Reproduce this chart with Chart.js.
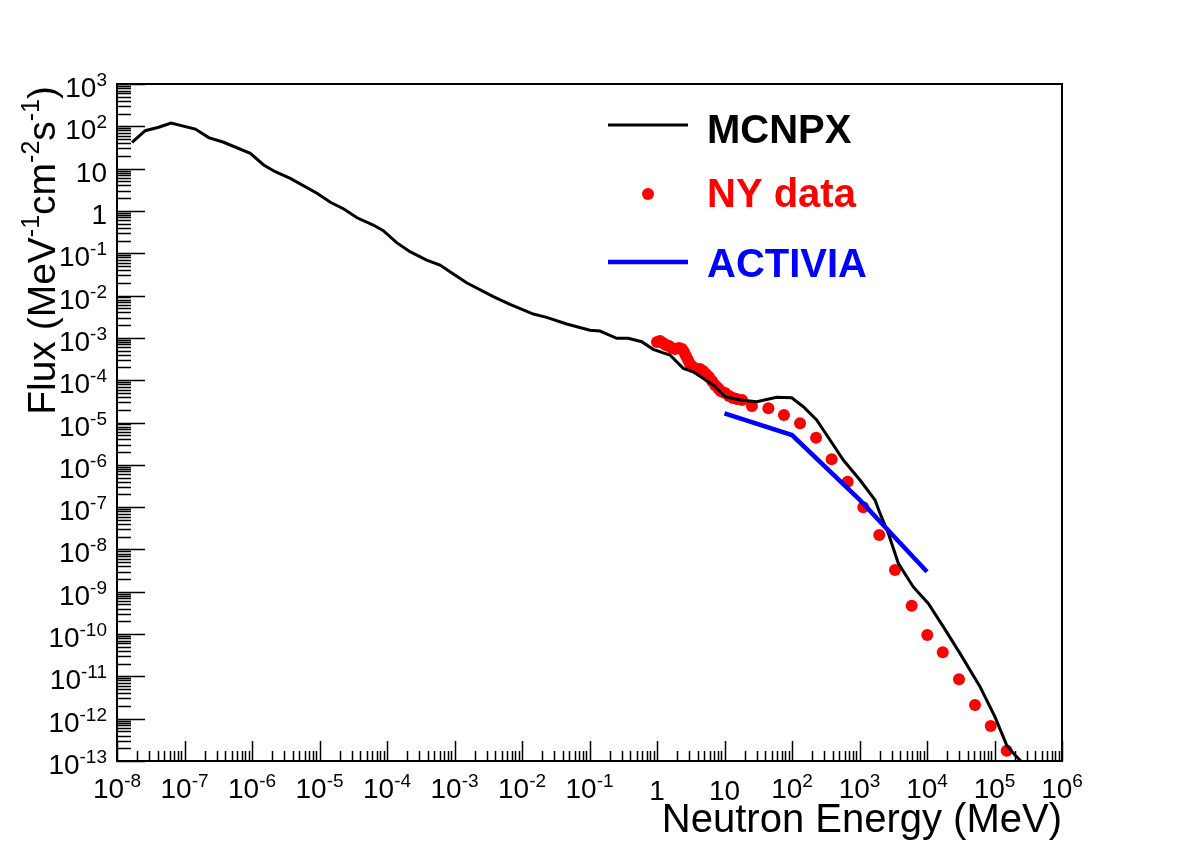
<!DOCTYPE html>
<html><head><meta charset="utf-8">
<script src="https://cdn.jsdelivr.net/npm/chart.js@4.4.0/dist/chart.umd.min.js"></script>
<style>html,body{margin:0;padding:0;background:#fff;}#wrap{position:relative;width:1182px;height:848px;}</style>
</head><body><div id="wrap"><canvas id="c" width="1182" height="848"></canvas></div>
<script>
// ---- data ----
const mcnpxE = [1.67e-8, 2.62e-8, 4.15e-8, 6.31e-8, 1.45e-7, 2.28e-7, 3.80e-7, 9.44e-7, 1.49e-6, 2.21e-6, 3.69e-6, 9.18e-6, 1.45e-5, 2.29e-5, 3.60e-5, 6.27e-5, 8.81e-5, 1.39e-4, 2.19e-4, 3.87e-4, 6.10e-4, 8.57e-4, 1.51e-3, 3.76e-3, 6.64e-3, 0.0147, 0.0232, 0.0459, 0.1016, 0.143, 0.253, 0.376, 0.593, 0.881, 1.175, 1.56, 2.45, 3.45, 4.85, 6.82, 10.2, 17.0, 30.0, 59.3, 98.9, 147, 232, 366, 575, 1016, 1698, 2014, 2673, 3758, 6266, 10450, 17400, 30800, 61000, 101600, 151000, 201000, 255000];
const mcnpxF = [41.9, 78.7, 95, 120, 86, 54, 42, 23, 12.2, 8.45, 5.9, 2.61, 1.6, 1.11, 0.69, 0.465, 0.341, 0.178, 0.109, 0.069, 0.0527, 0.0366, 0.0201, 0.0094, 0.0062, 0.00366, 0.00306, 0.00213, 0.00151, 0.00145, 0.000975, 0.000975, 0.00081, 5.37e-4, 4.54e-4, 3.93e-4, 1.9e-4, 1.58e-4, 1.1e-4, 7.7e-5, 4.07e-5, 3.4e-5, 3.1e-5, 3.93e-5, 3.85e-5, 2.36e-5, 1.15e-5, 3.86e-6, 1.3e-6, 4.37e-7, 1.47e-7, 7.1e-8, 2.4e-8, 4.7e-9, 1.3e-9, 5.3e-10, 1.5e-10, 3.5e-11, 5.7e-12, 1.1e-12, 2.4e-13, 1.38e-13, 0.94e-13];
const nyE = [1.00, 1.107, 1.227, 1.358, 1.506, 1.667, 1.848, 2.117, 2.345, 2.512, 2.69, 2.88, 3.08, 3.41, 3.92, 4.34, 4.80, 5.32, 5.89, 6.53, 7.23, 8.01, 8.87, 10.2, 11.7, 13.4, 15.3, 18.2, 25.5, 44.6, 76.0, 131.5, 227, 387, 668, 1138, 1963, 3357, 5929, 10090, 17100, 29800, 51400, 87900, 151700];
const nyF = [7.98e-4, 8.43e-4, 7.56e-4, 6.78e-4, 6.42e-4, 5.75e-4, 5.45e-4, 5.75e-4, 5.45e-4, 4.63e-4, 3.72e-4, 3.0e-4, 2.41e-4, 2.05e-4, 1.84e-4, 1.84e-4, 1.65e-4, 1.40e-4, 1.19e-4, 9.6e-5, 7.7e-5, 6.5e-5, 5.5e-5, 4.98e-5, 4.23e-5, 3.79e-5, 3.59e-5, 3.4e-5, 2.45e-5, 2.16e-5, 1.50e-5, 9.55e-6, 4.37e-6, 1.35e-6, 3.98e-7, 9.9e-8, 2.19e-8, 3.26e-9, 4.68e-10, 9.5e-11, 3.7e-11, 8.5e-12, 2.1e-12, 6.7e-13, 1.75e-13];
const activiaE = [10, 100, 1000, 10000];
const activiaF = [1.65e-5, 5.06e-6, 1.5e-7, 2.98e-9];

const xTickValues = [1e-8,1e-7,1e-6,1e-5,1e-4,1e-3,1e-2,1e-1,1,10,1e2,1e3,1e4,1e5,1e6];
const xTickLabels = ["10^-8","10^-7","10^-6","10^-5","10^-4","10^-3","10^-2","10^-1","1","10","10^2","10^3","10^4","10^5","10^6"];
const yTickValues = [1e3,1e2,10,1,1e-1,1e-2,1e-3,1e-4,1e-5,1e-6,1e-7,1e-8,1e-9,1e-10,1e-11,1e-12,1e-13];
const yTickLabels = ["10^3","10^2","10","1","10^-1","10^-2","10^-3","10^-4","10^-5","10^-6","10^-7","10^-8","10^-9","10^-10","10^-11","10^-12","10^-13"];
const legendLabels = ["MCNPX", "NY data", "ACTIVIA"];
const xTitle = "Neutron Energy (MeV)";
const yTitleParts = [["Flux (MeV",0],["-1",1],["cm",0],["-2",1],["s",0],["-1",1],[")",0]];

const FONT = "'Liberation Sans', Arial, Helvetica, sans-serif";
const toPts = (xs, ys) => xs.map((x, i) => ({x: x, y: ys[i]}));

function drawPow(ctx, label, x, y, align, base, sup, raise) {
  const parts = label.split("^");
  ctx.font = base + "px " + FONT;
  const w1 = ctx.measureText(parts[0]).width;
  let w2 = 0;
  if (parts.length > 1) { ctx.font = sup + "px " + FONT; w2 = ctx.measureText(parts[1]).width; }
  const tot = w1 + w2;
  let sx = align === "right" ? x - tot : x - tot / 2;
  ctx.textAlign = "left"; ctx.textBaseline = "alphabetic";
  ctx.font = base + "px " + FONT;
  ctx.fillText(parts[0], sx, y);
  if (parts.length > 1) { ctx.font = sup + "px " + FONT; ctx.fillText(parts[1], sx + w1, y - raise); }
}

const axesPlugin = {
  id: "rootAxes",
  beforeDatasetsDraw(chart) {
    const ctx = chart.ctx, a = chart.chartArea, xs = chart.scales.x, ys = chart.scales.y;
    ctx.save();
    ctx.strokeStyle = "#000"; ctx.fillStyle = "#000";
    ctx.lineWidth = 2;
    ctx.strokeRect(a.left, a.top, a.right - a.left, a.bottom - a.top);
    ctx.lineWidth = 1.5;
    ctx.beginPath();
    // x ticks
    for (let d = -8; d <= 6; d++) {
      for (let m = 1; m <= 9; m++) {
        if (d === 6 && m > 1) break;
        const px = Math.round(xs.getPixelForValue(m * Math.pow(10, d))) + 0.5;
        const len = m === 1 ? 20 : 10;
        ctx.moveTo(px, a.bottom); ctx.lineTo(px, a.bottom - len);
      }
    }
    // y ticks
    for (let d = -13; d <= 3; d++) {
      for (let m = 1; m <= 9; m++) {
        if (d === 3 && m > 1) break;
        const py = Math.round(ys.getPixelForValue(m * Math.pow(10, d))) + 0.5;
        const len = m === 1 ? 28 : 14;
        ctx.moveTo(a.left, py); ctx.lineTo(a.left + len, py);
      }
    }
    ctx.stroke();
    // tick labels
    xTickValues.forEach((v, i) => {
      const px = xs.getPixelForValue(v);
      const lab = xTickLabels[i];
      drawPow(ctx, lab, px, lab.indexOf("^") < 0 ? 800 : 798, "center", 28, 19, 11);
    });
    yTickValues.forEach((v, i) => {
      const py = ys.getPixelForValue(v);
      drawPow(ctx, yTickLabels[i], 107, py + 13, "right", 28, 19, 11);
    });
    // x title
    ctx.font = "40px " + FONT;
    ctx.textAlign = "right"; ctx.textBaseline = "alphabetic";
    ctx.fillText(xTitle, a.right, 832);
    // y title (rotated, aligned to top)
    const mainSz = 39, supSz = 25, raise = 16;
    let tot = 0;
    yTitleParts.forEach(p => { ctx.font = (p[1] ? supSz : mainSz) + "px " + FONT; tot += ctx.measureText(p[0]).width; });
    ctx.translate(55, a.top + 2);
    ctx.rotate(-Math.PI / 2);
    ctx.textAlign = "left";
    let cx = -tot;
    yTitleParts.forEach(p => {
      ctx.font = (p[1] ? supSz : mainSz) + "px " + FONT;
      ctx.fillText(p[0], cx, p[1] ? -raise : 0);
      cx += ctx.measureText(p[0]).width;
    });
    ctx.restore();
  },
  afterDraw(chart) {
    const ctx = chart.ctx;
    ctx.save();
    ctx.font = "bold 40px " + FONT;
    ctx.textAlign = "left"; ctx.textBaseline = "alphabetic";
    // MCNPX
    ctx.strokeStyle = "#000"; ctx.lineWidth = 3;
    ctx.beginPath(); ctx.moveTo(608, 125); ctx.lineTo(688, 125); ctx.stroke();
    ctx.fillStyle = "#000"; ctx.fillText(legendLabels[0], 707, 143);
    // NY data
    ctx.fillStyle = "#ff0000";
    ctx.beginPath(); ctx.arc(648, 194, 6, 0, Math.PI * 2); ctx.fill();
    ctx.fillText(legendLabels[1], 707, 207);
    // ACTIVIA
    ctx.strokeStyle = "#0000ff"; ctx.lineWidth = 4.5;
    ctx.beginPath(); ctx.moveTo(608, 262); ctx.lineTo(688, 262); ctx.stroke();
    ctx.fillStyle = "#0000ff"; ctx.fillText(legendLabels[2], 707, 277);
    ctx.restore();
  }
};

new Chart(document.getElementById("c"), {
  type: "scatter",
  data: {
    datasets: [
      { label: legendLabels[2], data: toPts(activiaE, activiaF), showLine: true, borderColor: "#0000ff", borderWidth: 4.5, pointRadius: 0, order: 0, tension: 0 },
      { label: legendLabels[0], data: toPts(mcnpxE, mcnpxF), showLine: true, borderColor: "#000000", borderWidth: 3, pointRadius: 0, order: 1, tension: 0 },
      { label: legendLabels[1], data: toPts(nyE, nyF), showLine: false, backgroundColor: "#ff0000", borderColor: "#ff0000", borderWidth: 0, pointRadius: 6, pointStyle: "circle", order: 2 }
    ]
  },
  options: {
    responsive: false, animation: false, devicePixelRatio: 1,
    layout: { padding: { left: 117, right: 120, top: 84, bottom: 87 } },
    scales: {
      x: { type: "logarithmic", min: 1e-8, max: 1e6, display: false },
      y: { type: "logarithmic", min: 1e-13, max: 1e3, display: false }
    },
    plugins: { legend: { display: false }, tooltip: { enabled: false } }
  },
  plugins: [axesPlugin]
});
</script></body></html>
